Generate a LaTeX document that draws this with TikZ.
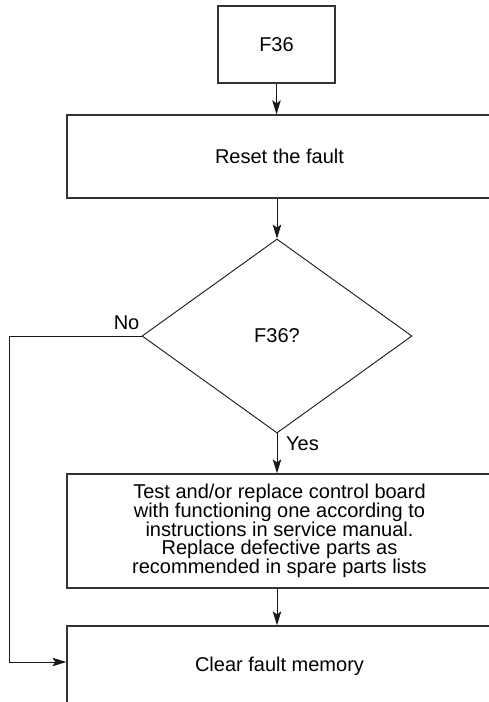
\documentclass[tikz,border=0pt]{standalone}
\usepackage{fontspec}
\setmainfont{Liberation Sans}
\usetikzlibrary{shapes.geometric,arrows.meta}

\begin{document}
\begin{tikzpicture}[x=1pt,y=-1pt,inner sep=0pt,
				textfont/.style={font=\fontsize{20}{18.8}\selectfont},
				box/.style={rectangle,draw=black!80,line width=1.3pt,align=center,textfont},
				decision/.style={diamond,draw=black!90,line width=0.9pt,minimum width=270pt,minimum height=194pt,aspect=1.39,textfont},
				flow/.style={draw=black!90,line width=1pt,-{Stealth[length=14pt,width=8.5pt,inset=3pt]}},
				answer/.style={inner sep=1pt,textfont}]
				
				\useasboundingbox (0,0) rectangle (489,702);
				\clip (0,0) rectangle (489,702);
				
				\node[box,minimum width=117pt,minimum height=77pt] (f36) at (276.5,44.5) {F36};
				\node[box,minimum width=425pt,minimum height=83pt] (reset) at (279.5,156.5) {Reset the fault};
				\node[decision] (dec) at (277,336) {F36?};
				\node[box,minimum width=425pt,minimum height=114pt] (test) at (279.5,531) {Test and/or replace control board\\with functioning one according to\\instructions in service manual.\\Replace defective parts as\\recommended in spare parts lists};
				\node[box,minimum width=425pt,minimum height=80pt] (clear) at (279.5,666) {Clear fault memory};
				
				\node[answer,anchor=east] (no) at ([xshift=-1pt,yshift=13pt]dec.west) {No};
				\node[answer,anchor=west] (yes) at ([xshift=8pt,yshift=-10pt]dec.south) {Yes};
				\coordinate (noturn) at (9,336);
				
				\draw[flow] (f36.south) -- (f36.south |- reset.north);
				\draw[flow] (dec.north |- reset.south) -- (dec.north);
				\draw[flow] (dec.south) -- (dec.south |- test.north);
				\draw[flow] (dec.south |- test.south) -- (dec.south |- clear.north);
				\draw[flow] (dec.west) -- (noturn) |- ([yshift=4pt]clear.west);
				
			\end{tikzpicture}
\end{document}
